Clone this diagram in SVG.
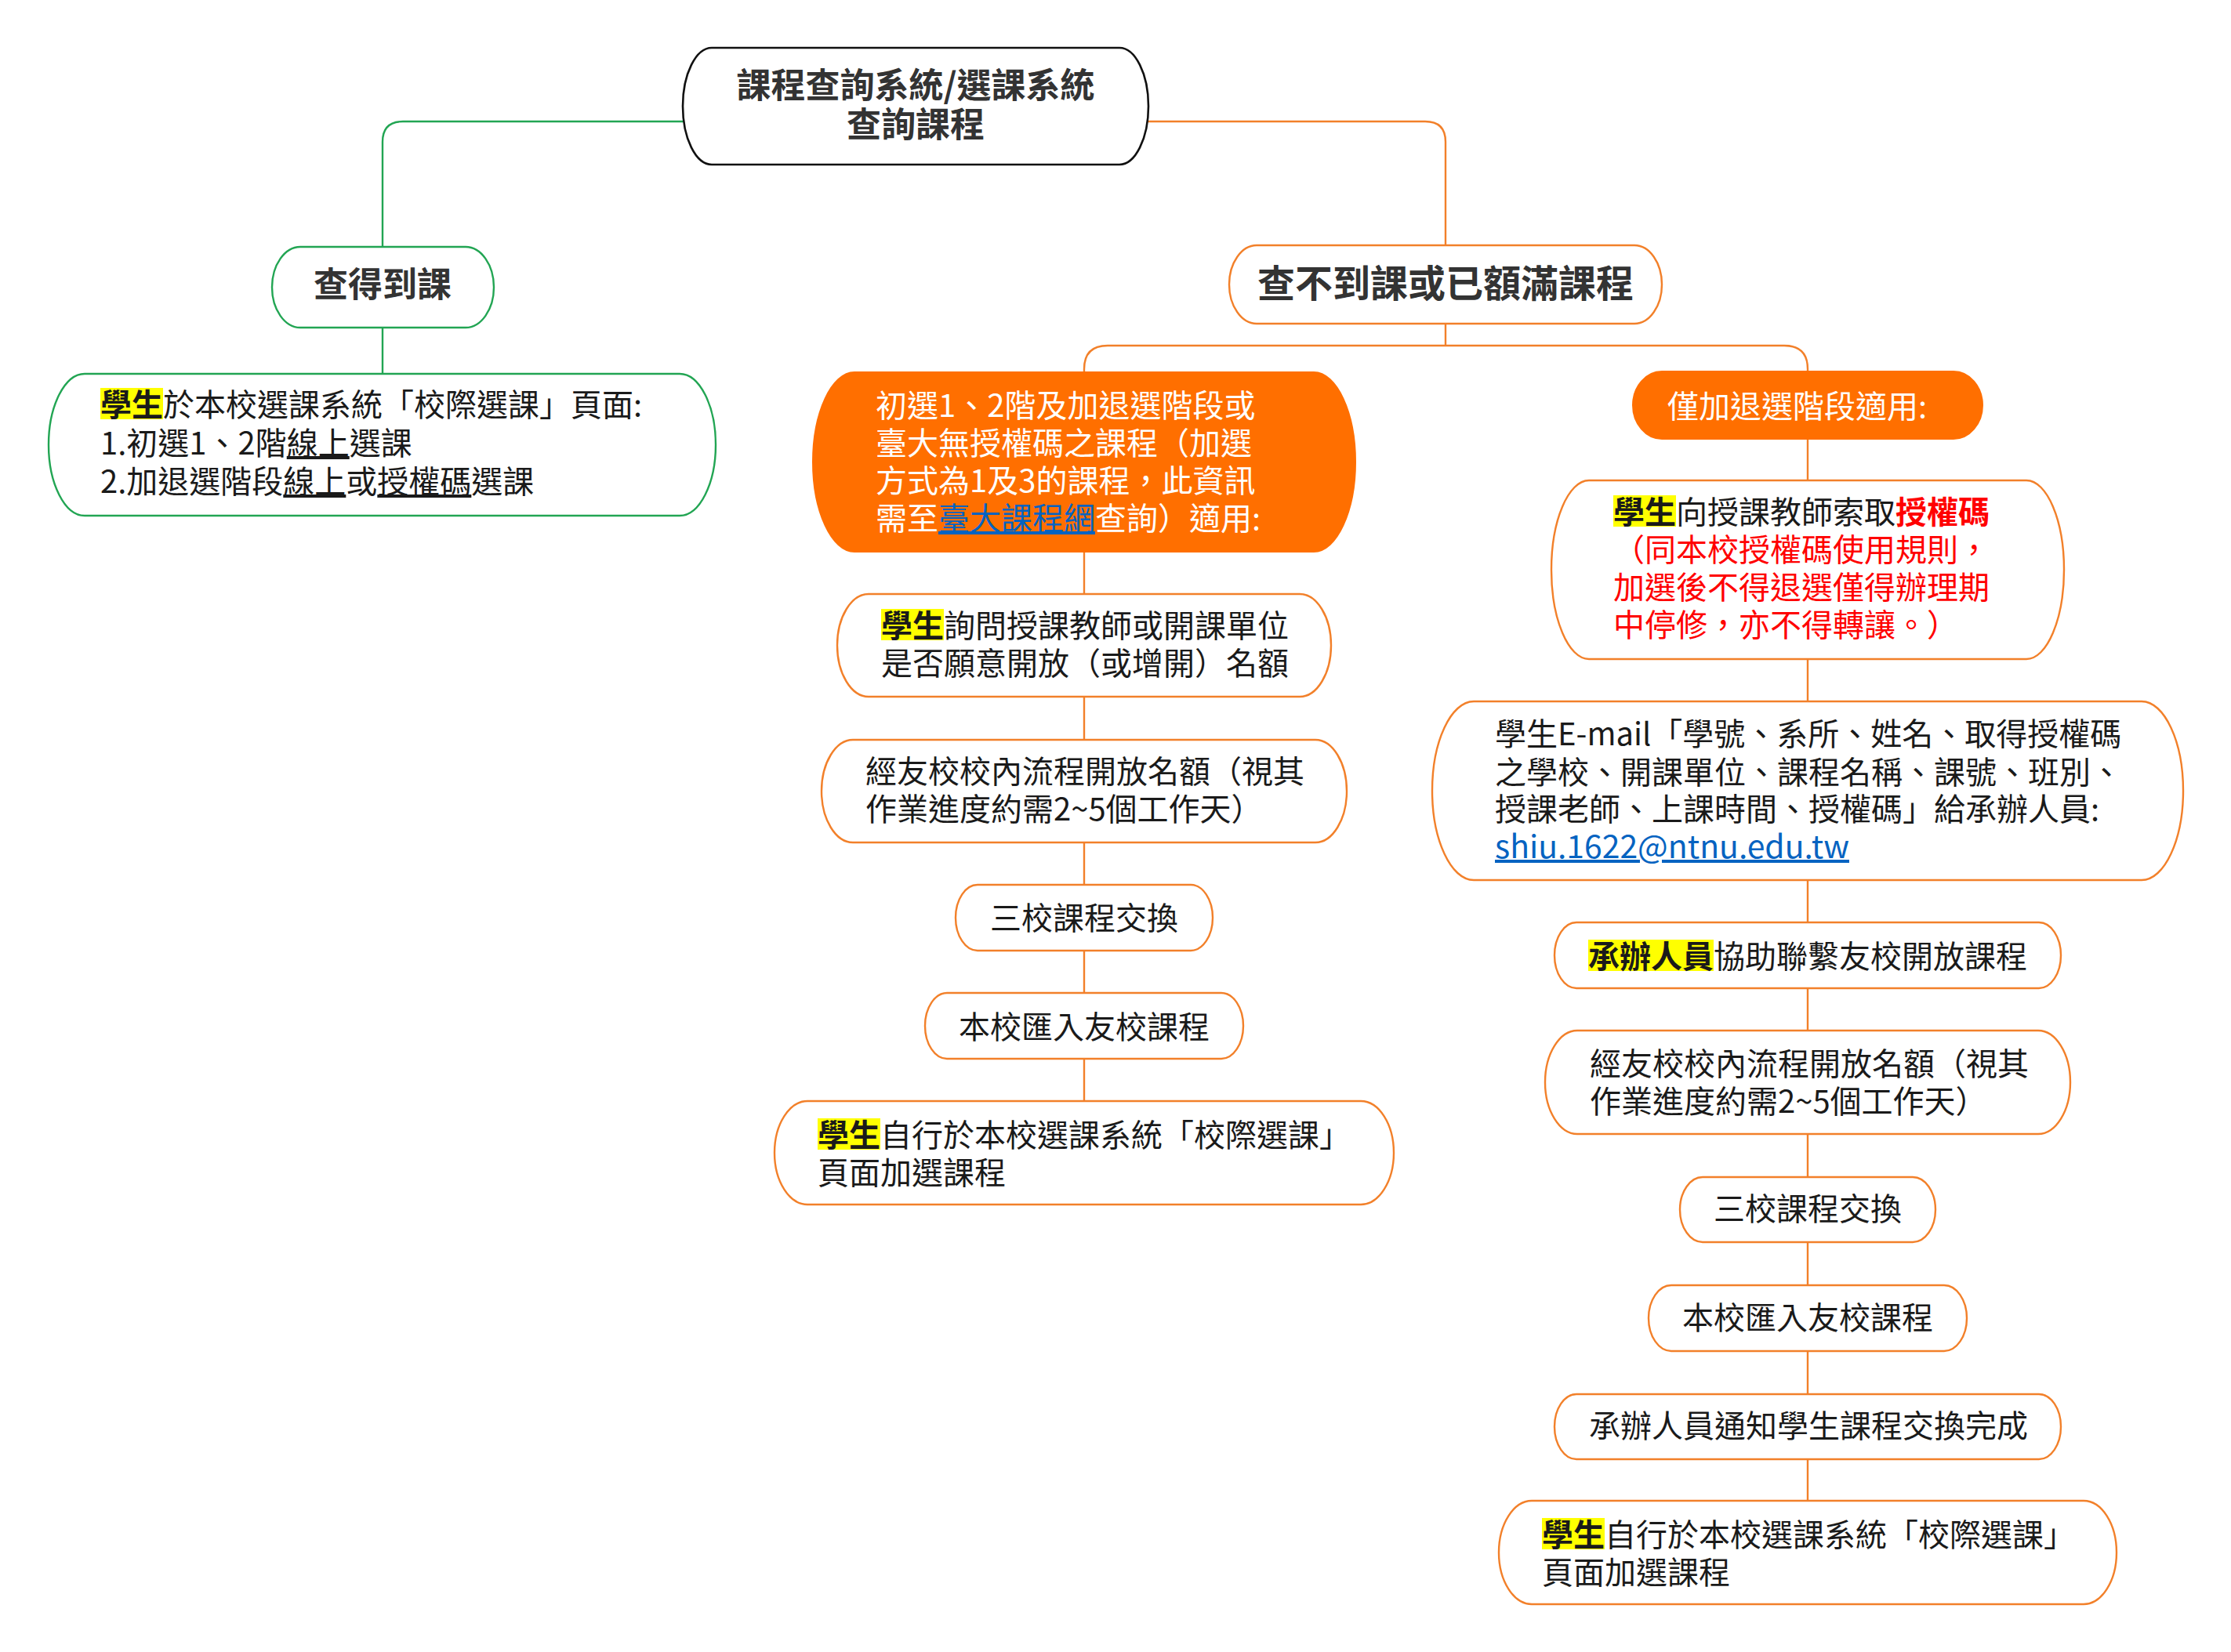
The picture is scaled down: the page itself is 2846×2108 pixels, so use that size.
<svg xmlns="http://www.w3.org/2000/svg" width="2846" height="2108" viewBox="0 0 2846 2108">
<style>
text{font-family:"Noto Sans CJK TC","Noto Sans",sans-serif;font-size:40px;fill:#1a1a1a}
.title{font-weight:700;fill:#333333;font-size:44px;text-anchor:middle}
.big{font-size:48px}
.mid{text-anchor:middle}
.b{font-weight:700}
.u{text-decoration:underline}
.w{fill:#ffffff}
.link{fill:#0563C1;text-decoration:underline}
.red{fill:#FF0000}
.hl{fill:#FFFF00}
.box{fill:#ffffff;stroke:#F2802A;stroke-width:2.4}
.gbox{fill:#ffffff;stroke:#22A553;stroke-width:2.4}
.root{fill:#ffffff;stroke:#111111;stroke-width:2.6}
.fill{fill:#FF6F00;stroke:#FF6F00;stroke-width:2}
.cg{fill:none;stroke:#22A553;stroke-width:2.4}
.co{fill:none;stroke:#F2802A;stroke-width:2.4}
</style>
<rect x="0" y="0" width="2846" height="2108" fill="#ffffff"/>

<g id="connectors">
<path class="cg" d="M873,155 H514 Q488,155 488,181 V315 M488,418 V477"/>
<path class="co" d="M1464,155 H1818 Q1844,155 1844,181 V313 M1844,413 V441 M1383,475 V471 Q1383,441 1413,441 H2276 Q2306,441 2306,471 V474"/>
<path class="co" d="M1383,704 V758 M1383,889 V944 M1383,1075 V1129 M1383,1213 V1267 M1383,1351 V1405"/>
<path class="co" d="M2306,560 V613 M2306,841 V895 M2306,1123 V1177 M2306,1261 V1315 M2306,1447 V1502 M2306,1585 V1640 M2306,1724 V1779 M2306,1862 V1915"/>
</g>

<g id="root">
<path class="root" d="M908,61 H1428 C1448.3,61 1465,94.5 1465,135.5 C1465,176.5 1448.3,210 1428,210 H908 C887.7,210 871,176.5 871,135.5 C871,94.5 887.7,61 908,61Z"/>
<text class="title" x="1168" y="125">課程查詢系統/選課系統</text>
<text class="title" x="1168" y="175">查詢課程</text>
</g>

<g id="found">
<path class="gbox" d="M383,315 H594 C613.8,315 630,338.2 630,366.5 C630,394.8 613.8,418 594,418 H383 C363.2,418 347,394.8 347,366.5 C347,338.2 363.2,315 383,315Z"/>
<text class="title" x="488" y="379">查得到課</text>
</g>

<g id="found-detail">
<path class="gbox" d="M108,477 H867 C892.3,477 913,517.7 913,567.5 C913,617.3 892.3,658 867,658 H108 C82.7,658 62,617.3 62,567.5 C62,517.7 82.7,477 108,477Z"/>
<rect class="hl" x="128" y="495" width="80" height="40"/>
<text x="128" y="531"><tspan class="b">學生</tspan>於本校選課系統「校際選課」頁面:</text>
<text x="128" y="580">1.初選1、2階<tspan class="u">線上</tspan>選課</text>
<text x="128" y="629">2.加退選階段<tspan class="u">線上</tspan>或<tspan class="u">授權碼</tspan>選課</text>
</g>

<g id="notfound">
<path class="box" d="M1603,313 H2085 C2104.3,313 2120,335.5 2120,363 C2120,390.5 2104.3,413 2085,413 H1603 C1583.8,413 1568,390.5 1568,363 C1568,335.5 1583.8,313 1603,313Z"/>
<text class="title big" x="1844" y="379">查不到課或已額滿課程</text>
</g>

<g id="m0">
<path class="fill" d="M1090,475 H1676 C1705.1,475 1729,526.5 1729,589.5 C1729,652.5 1705.1,704 1676,704 H1090 C1060.9,704 1037,652.5 1037,589.5 C1037,526.5 1060.9,475 1090,475Z"/>
<text class="w" x="1117" y="532">初選1、2階及加退選階段或</text>
<text class="w" x="1117" y="580">臺大無授權碼之課程（加選</text>
<text class="w" x="1117" y="628">方式為1及3的課程，此資訊</text>
<text class="w" x="1117" y="676">需至<tspan class="link">臺大課程網</tspan>查詢）適用:</text>
</g>

<g id="m1">
<path class="box" d="M1108,758 H1658 C1680,758 1698,787.5 1698,823.5 C1698,859.5 1680,889 1658,889 H1108 C1086,889 1068,859.5 1068,823.5 C1068,787.5 1086,758 1108,758Z"/>
<rect class="hl" x="1124" y="777" width="80" height="40"/>
<text x="1124" y="813"><tspan class="b">學生</tspan>詢問授課教師或開課單位</text>
<text x="1124" y="861">是否願意開放（或增開）名額</text>
</g>

<g id="m2">
<path class="box" d="M1088,944 H1678 C1700,944 1718,973.5 1718,1009.5 C1718,1045.5 1700,1075 1678,1075 H1088 C1066,1075 1048,1045.5 1048,1009.5 C1048,973.5 1066,944 1088,944Z"/>
<text x="1104" y="999">經友校校內流程開放名額（視其</text>
<text x="1104" y="1047">作業進度約需2~5個工作天）</text>
</g>

<g id="m3">
<path class="box" d="M1247,1129 H1519 C1534.4,1129 1547,1147.9 1547,1171 C1547,1194.1 1534.4,1213 1519,1213 H1247 C1231.6,1213 1219,1194.1 1219,1171 C1219,1147.9 1231.6,1129 1247,1129Z"/>
<text class="mid" x="1383" y="1186">三校課程交換</text>
</g>

<g id="m4">
<path class="box" d="M1208,1267 H1558 C1573.4,1267 1586,1285.9 1586,1309 C1586,1332.1 1573.4,1351 1558,1351 H1208 C1192.6,1351 1180,1332.1 1180,1309 C1180,1285.9 1192.6,1267 1208,1267Z"/>
<text class="mid" x="1383" y="1325">本校匯入友校課程</text>
</g>

<g id="m5">
<path class="box" d="M1030,1405 H1736 C1759.1,1405 1778,1434.7 1778,1471 C1778,1507.3 1759.1,1537 1736,1537 H1030 C1006.9,1537 988,1507.3 988,1471 C988,1434.7 1006.9,1405 1030,1405Z"/>
<rect class="hl" x="1043" y="1427" width="80" height="40"/>
<text x="1043" y="1463"><tspan class="b">學生</tspan>自行於本校選課系統「校際選課」</text>
<text x="1043" y="1511">頁面加選課程</text>
</g>

<g id="r0">
<path class="fill" d="M2120,474 H2492 C2512.3,474 2529,493.3 2529,517 C2529,540.7 2512.3,560 2492,560 H2120 C2099.7,560 2083,540.7 2083,517 C2083,493.3 2099.7,474 2120,474Z"/>
<text class="w" x="2127" y="533">僅加退選階段適用:</text>
</g>

<g id="r1">
<path class="box" d="M2027,613 H2585 C2611.4,613 2633,664.3 2633,727 C2633,789.7 2611.4,841 2585,841 H2027 C2000.6,841 1979,789.7 1979,727 C1979,664.3 2000.6,613 2027,613Z"/>
<rect class="hl" x="2058" y="632" width="80" height="40"/>
<text x="2058" y="668"><tspan class="b">學生</tspan>向授課教師索取<tspan class="b red">授權碼</tspan></text>
<text class="red" x="2058" y="716">（同本校授權碼使用規則，</text>
<text class="red" x="2058" y="764">加選後不得退選僅得辦理期</text>
<text class="red" x="2058" y="812">中停修，亦不得轉讓。）</text>
</g>

<g id="r2">
<path class="box" d="M1880,895 H2732 C2761.1,895 2785,946.3 2785,1009 C2785,1071.7 2761.1,1123 2732,1123 H1880 C1850.9,1123 1827,1071.7 1827,1009 C1827,946.3 1850.9,895 1880,895Z"/>
<text x="1907" y="951">學生E-mail「學號、系所、姓名、取得授權碼</text>
<text x="1907" y="1000">之學校、開課單位、課程名稱、課號、班別、</text>
<text x="1907" y="1047">授課老師、上課時間、授權碼」給承辦人員:</text>
<text class="link" x="1907" y="1095" textLength="452" lengthAdjust="spacingAndGlyphs">shiu.1622@ntnu.edu.tw</text>
</g>

<g id="r3">
<path class="box" d="M2011,1177 H2601 C2616.4,1177 2629,1195.9 2629,1219 C2629,1242.1 2616.4,1261 2601,1261 H2011 C1995.6,1261 1983,1242.1 1983,1219 C1983,1195.9 1995.6,1177 2011,1177Z"/>
<rect class="hl" x="2026" y="1199" width="160" height="40"/>
<text x="2026" y="1235"><tspan class="b">承辦人員</tspan>協助聯繫友校開放課程</text>
</g>

<g id="r4">
<path class="box" d="M2012,1315 H2600 C2622.6,1315 2641,1344.7 2641,1381 C2641,1417.3 2622.6,1447 2600,1447 H2012 C1989.5,1447 1971,1417.3 1971,1381 C1971,1344.7 1989.5,1315 2012,1315Z"/>
<text x="2028" y="1372">經友校校內流程開放名額（視其</text>
<text x="2028" y="1420">作業進度約需2~5個工作天）</text>
</g>

<g id="r5">
<path class="box" d="M2172,1502 H2440 C2456,1502 2469,1520.7 2469,1543.5 C2469,1566.3 2456,1585 2440,1585 H2172 C2156,1585 2143,1566.3 2143,1543.5 C2143,1520.7 2156,1502 2172,1502Z"/>
<text class="mid" x="2306" y="1557">三校課程交換</text>
</g>

<g id="r6">
<path class="box" d="M2132,1640 H2480 C2496,1640 2509,1658.9 2509,1682 C2509,1705.1 2496,1724 2480,1724 H2132 C2116,1724 2103,1705.1 2103,1682 C2103,1658.9 2116,1640 2132,1640Z"/>
<text class="mid" x="2306" y="1696">本校匯入友校課程</text>
</g>

<g id="r7">
<path class="box" d="M2011,1779 H2601 C2616.4,1779 2629,1797.7 2629,1820.5 C2629,1843.3 2616.4,1862 2601,1862 H2011 C1995.6,1862 1983,1843.3 1983,1820.5 C1983,1797.7 1995.6,1779 2011,1779Z"/>
<text x="2027" y="1834">承辦人員通知學生課程交換完成</text>
</g>

<g id="r8">
<path class="box" d="M1954,1915 H2658 C2681.1,1915 2700,1944.7 2700,1981 C2700,2017.3 2681.1,2047 2658,2047 H1954 C1930.9,2047 1912,2017.3 1912,1981 C1912,1944.7 1930.9,1915 1954,1915Z"/>
<rect class="hl" x="1967" y="1937" width="80" height="40"/>
<text x="1967" y="1973"><tspan class="b">學生</tspan>自行於本校選課系統「校際選課」</text>
<text x="1967" y="2021">頁面加選課程</text>
</g>
</svg>
